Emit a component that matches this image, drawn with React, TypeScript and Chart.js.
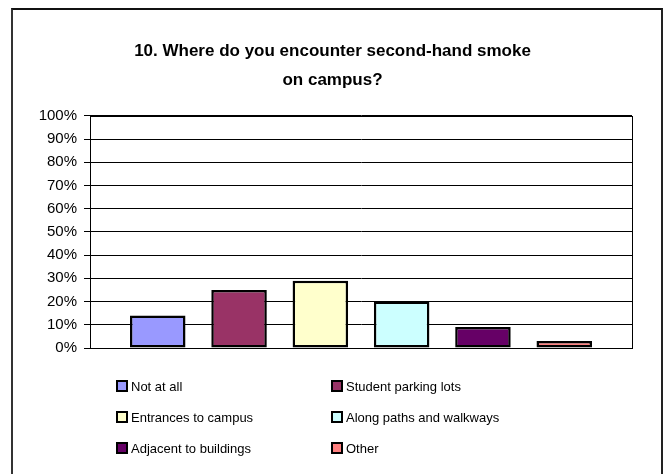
import React, { useEffect, useRef } from "react";
import { Chart, registerables } from "chart.js";

Chart.register(...registerables);

const titleLines = ["10. Where do you encounter second-hand smoke", "on campus?"];
const seriesNames = [
  "Not at all",
  "Student parking lots",
  "Entrances to campus",
  "Along paths and walkways",
  "Adjacent to buildings",
  "Other",
];
const seriesValues = [14, 25, 29, 20, 9, 3];
const seriesColors = ["#9999FF", "#993366", "#FFFFCC", "#CCFFFF", "#660066", "#FF8080"];
const yTicks = [0, 10, 20, 30, 40, 50, 60, 70, 80, 90, 100];

const FONT = "'Liberation Sans', Arial, Helvetica, sans-serif";

const plotBorder = {
  id: "plotBorder",
  afterDraw(chart: any) {
    const { ctx, chartArea } = chart;
    ctx.save();
    ctx.strokeStyle = "#000";
    ctx.lineWidth = 1;
    ctx.strokeRect(
      Math.round(chartArea.left) + 0.5,
      Math.round(chartArea.top) + 0.5,
      Math.round(chartArea.right - chartArea.left),
      Math.round(chartArea.bottom - chartArea.top)
    );
    ctx.restore();
  },
};

export default function App() {
  const ref = useRef<HTMLCanvasElement | null>(null);

  useEffect(() => {
    if (!ref.current) return;
    const chart = new Chart(ref.current, {
      type: "bar",
      data: {
        labels: [""],
        datasets: seriesNames.map((name, i) => ({
          label: name,
          data: [seriesValues[i]],
          backgroundColor: seriesColors[i],
          borderColor: "#000",
          borderWidth: 2.5,
          borderSkipped: false,
          categoryPercentage: 0.9,
          barPercentage: 0.683,
        })),
      },
      options: {
        animation: false,
        responsive: false,
        maintainAspectRatio: false,
        layout: { padding: { left: 33, right: 33, top: 0, bottom: 126 } },
        plugins: {
          legend: { display: false },
          tooltip: { enabled: false },
          title: {
            display: true,
            text: titleLines,
            color: "#000",
            font: { family: FONT, size: 17, weight: "bold", lineHeight: 1.7 },
            padding: { top: 37, bottom: 21 },
          },
        },
        scales: {
          x: {
            display: true,
            ticks: { display: false },
            grid: { display: false, drawTicks: false },
            border: { display: false },
          },
          y: {
            min: 0,
            max: 100,
            afterBuildTicks: (scale: any) => {
              scale.ticks = yTicks.map((v) => ({ value: v }));
            },
            afterFit: (scale: any) => {
              scale.width = 57;
            },
            ticks: {
              color: "#000",
              font: { family: FONT, size: 15 },
              padding: 7,
              callback: (v: any) => v + "%",
            },
            grid: { color: "#000", lineWidth: 1, tickLength: 6, drawTicks: true },
            border: { display: true, color: "#000", width: 1 },
          },
        },
      },
      plugins: [plotBorder],
    });
    return () => chart.destroy();
  }, []);

  const legendRows = [0, 1, 2].map((r) => [r * 2, r * 2 + 1]);

  return (
    <div style={{ position: "fixed", left: 0, top: 0, width: 665, height: 474, background: "#fff", overflow: "hidden" }}>
      <div
        style={{
          position: "absolute",
          left: 11,
          top: 8,
          width: 648,
          height: 480,
          borderLeft: "2px solid #333",
          borderTop: "2px solid #111",
          borderRight: "2px solid #222",
        }}
      />
      <canvas ref={ref} width={665} height={474} style={{ position: "absolute", left: 0, top: 0 }} />
      {legendRows.map((row, r) =>
        row.map((idx, c) => (
          <div
            key={idx}
            style={{
              position: "absolute",
              left: c === 0 ? 116 : 331,
              top: 386 + r * 31 - 9,
              height: 18,
              display: "flex",
              alignItems: "center",
              fontFamily: FONT,
              fontSize: 13,
              color: "#000",
              whiteSpace: "nowrap",
            }}
          >
            <span
              style={{
                display: "inline-block",
                width: 8,
                height: 8,
                background: seriesColors[idx],
                border: "2px solid #000",
                marginRight: 3,
              }}
            />
            <span>{seriesNames[idx]}</span>
          </div>
        ))
      )}
    </div>
  );
}
